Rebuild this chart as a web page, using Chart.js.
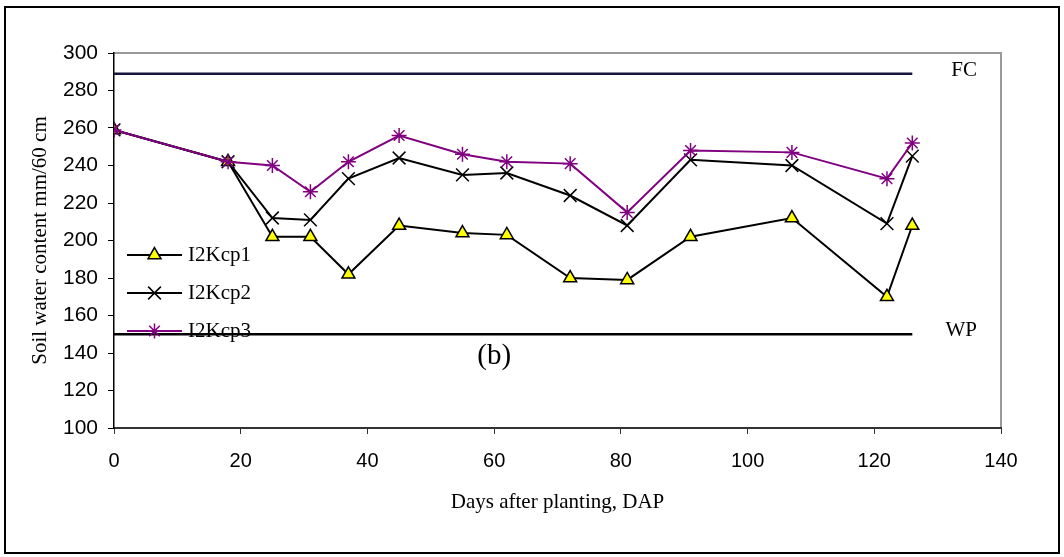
<!DOCTYPE html>
<html>
<head>
<meta charset="utf-8">
<script src="https://cdn.jsdelivr.net/npm/chart.js@4.4.0/dist/chart.umd.min.js"></script>
<style>
  html, body { margin: 0; padding: 0; background: #fff; }
  canvas { display: block; }
</style>
</head>
<body>
<canvas id="chart" width="1064" height="557"></canvas>
<script>
// data
var days = [0, 18, 25, 31, 37, 45, 55, 62, 72, 81, 91, 107, 122, 126];
var kcp1 = [259, 242, 202, 202, 182, 208, 204, 203, 180, 179, 202, 212, 170, 208];
var kcp2 = [259, 242, 212, 211, 233, 244, 235, 236, 224, 208, 243, 240, 209, 245];
var kcp3 = [259, 242, 240, 226, 242, 256, 246, 242, 241, 215, 248, 247, 233, 252];
var fcValue = 289;
var wpValue = 150;
var yTicks = [100, 120, 140, 160, 180, 200, 220, 240, 260, 280, 300];
var xTicks = [0, 20, 40, 60, 80, 100, 120, 140];

var serif = '"Liberation Serif", "Times New Roman", serif';
var sans = '"Liberation Sans", Arial, sans-serif';

function pts(ys) {
    return days.map(function(d, i) { return {x: d, y: ys[i]}; });
}

// frame, labels and legend drawn on the canvas
var decor = {
    id: 'decor',
    beforeDraw: function(chart) {
        var ctx = chart.ctx;
        var a = chart.chartArea;
        ctx.save();
        ctx.fillStyle = '#fff';
        ctx.fillRect(0, 0, chart.width, chart.height);
        ctx.strokeStyle = '#000';
        ctx.lineWidth = 2;
        ctx.strokeRect(5, 7, 1054, 546);
        ctx.strokeStyle = '#999';
        ctx.lineWidth = 2;
        ctx.beginPath();
        ctx.moveTo(a.left, a.top);
        ctx.lineTo(a.right, a.top);
        ctx.lineTo(a.right, a.bottom);
        ctx.stroke();
        ctx.restore();
    },
    afterDraw: function(chart) {
        var ctx = chart.ctx;
        var xs = chart.scales.x, ys = chart.scales.y;
        ctx.save();
        ctx.fillStyle = '#000';
        ctx.textBaseline = 'middle';
        ctx.font = '21px ' + serif;
        ctx.textAlign = 'right';
        ctx.fillText('FC', 977, ys.getPixelForValue(fcValue) - 3);
        ctx.fillText('WP', 977, ys.getPixelForValue(wpValue) - 4);
        ctx.textAlign = 'center';
        ctx.font = '29px ' + serif;
        ctx.fillText('(b)', xs.getPixelForValue(60), ys.getPixelForValue(138));

        // legend
        var rows = [255, 293, 331];
        chart.data.datasets.slice(0, 3).forEach(function(ds) {
            var y = rows[ds.legendRow];
            ctx.strokeStyle = ds.borderColor;
            ctx.lineWidth = 2;
            ctx.beginPath();
            ctx.moveTo(127, y);
            ctx.lineTo(182, y);
            ctx.stroke();
            ctx.fillStyle = ds.pointBackgroundColor;
            ctx.strokeStyle = ds.pointBorderColor;
            ctx.lineWidth = ds.pointBorderWidth;
            Chart.helpers.drawPoint(ctx, {
                pointStyle: ds.pointStyle,
                radius: ds.pointRadius,
                borderWidth: ds.pointBorderWidth,
                rotation: 0
            }, 154.5, y);
            ctx.fillStyle = '#000';
            ctx.textAlign = 'left';
            ctx.font = '21px ' + serif;
            ctx.fillText(ds.label, 188, y);
        });
        ctx.restore();
    }
};

var sets = [
    {label: 'I2Kcp1', data: pts(kcp1), borderColor: '#000', pointStyle: 'triangle',
     pointRadius: 7.5, pointBackgroundColor: '#ffff00', pointBorderColor: '#000', legendRow: 0, order: 3},
    {label: 'I2Kcp2', data: pts(kcp2), borderColor: '#000', pointStyle: 'crossRot',
     pointRadius: 9, pointBackgroundColor: '#000', pointBorderColor: '#000', legendRow: 1, order: 2},
    {label: 'I2Kcp3', data: pts(kcp3), borderColor: '#800080', pointStyle: 'star',
     pointRadius: 7.5, pointBackgroundColor: '#800080', pointBorderColor: '#800080', legendRow: 2, order: 1},
    {label: 'FC', data: [{x: 0, y: fcValue}, {x: days[days.length - 1], y: fcValue}],
     borderColor: '#14143c', borderWidth: 2.5, pointRadius: 0, order: 5},
    {label: 'WP', data: [{x: 0, y: wpValue}, {x: days[days.length - 1], y: wpValue}],
     borderColor: '#000', borderWidth: 2.5, pointRadius: 0, order: 4}
];
sets.forEach(function(s, i) {
    if (i < 3) {
        s.borderWidth = 2;
        s.pointBorderWidth = 1.5;
        s.pointHoverRadius = s.pointRadius;
    }
    s.fill = false;
    s.tension = 0;
});

var ctx = document.getElementById('chart').getContext('2d');
new Chart(ctx, {
    type: 'line',
    data: { datasets: sets },
    options: {
        responsive: false,
        animation: false,
        layout: { padding: { left: 0, top: 53, right: 63, bottom: 0 } },
        plugins: { legend: { display: false }, tooltip: { enabled: false } },
        scales: {
            x: {
                type: 'linear',
                min: 0, max: 140,
                afterFit: function(s) { s.height = 129; },
                afterBuildTicks: function(s) { s.ticks = xTicks.map(function(v) { return {value: v}; }); },
                grid: { drawOnChartArea: false, drawTicks: true, tickLength: 6, color: '#333', lineWidth: 1 },
                border: { color: '#333', width: 2 },
                ticks: { color: '#000', padding: 15, maxRotation: 0, font: { family: sans, size: 20 } },
                title: { display: true, text: 'Days after planting, DAP', color: '#000',
                         padding: { bottom: 42 }, font: { family: serif, size: 21 } }
            },
            y: {
                min: 100, max: 300,
                afterFit: function(s) { s.width = 114; },
                afterBuildTicks: function(s) { s.ticks = yTicks.map(function(v) { return {value: v}; }); },
                grid: { drawOnChartArea: false, drawTicks: true, tickLength: 6, color: '#000', lineWidth: 1 },
                border: { color: '#000', width: 1.5 },
                ticks: { color: '#000', padding: 10, font: { family: sans, size: 21 } },
                title: { display: true, text: 'Soil water content mm/60 cm', color: '#000',
                         padding: { top: 28 }, font: { family: serif, size: 21 } }
            }
        }
    },
    plugins: [decor]
});
</script>
</body>
</html>
